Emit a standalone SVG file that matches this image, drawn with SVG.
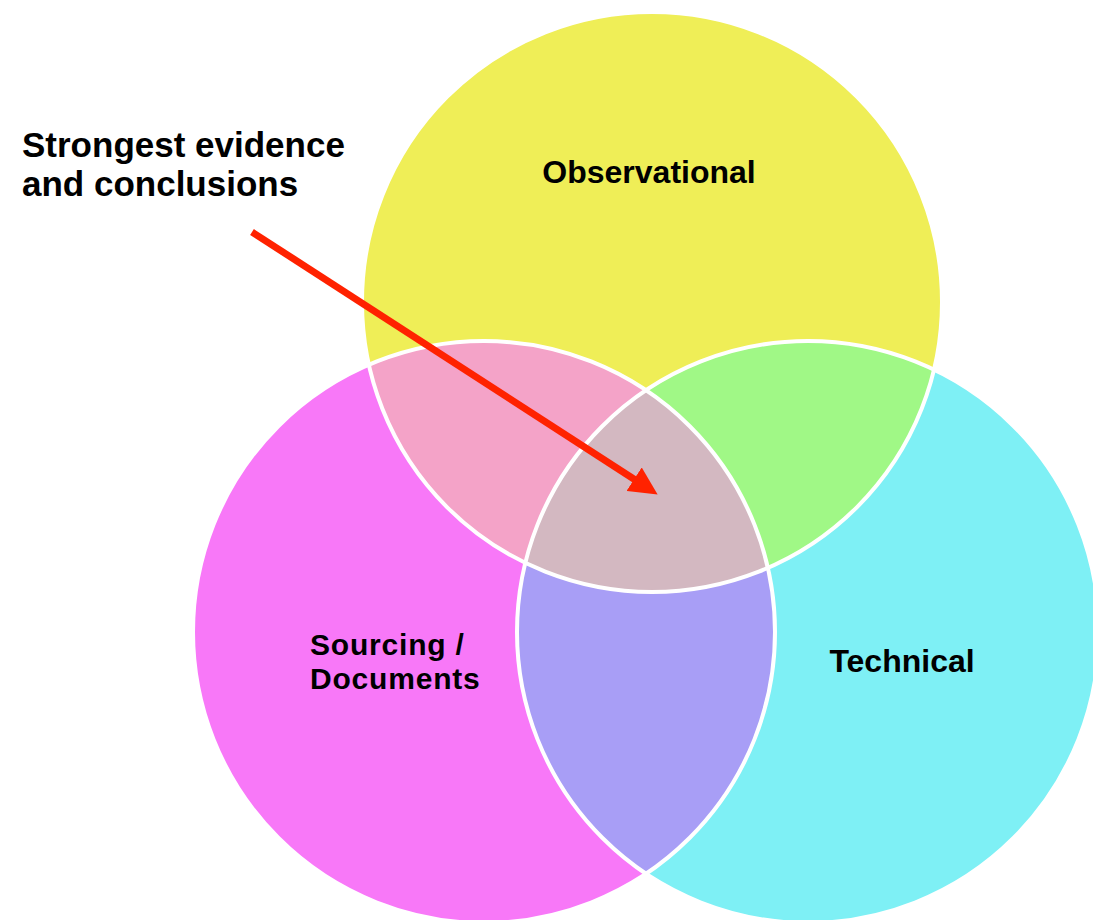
<svg xmlns="http://www.w3.org/2000/svg" width="1093" height="920" viewBox="0 0 1093 920">
<style>
.lbl{font-family:"Liberation Sans",Arial,sans-serif;font-weight:bold;fill:#000}
.edge{fill:none;stroke:#ffffff;stroke-width:4}
</style>
<defs>
<clipPath id="cY"><circle cx="652" cy="302" r="290"/></clipPath>
<clipPath id="cM"><circle cx="484" cy="632" r="291"/></clipPath>
<clipPath id="cC"><circle cx="808" cy="632" r="291"/></clipPath>
<marker id="ah" markerWidth="4" markerHeight="4" refX="1" refY="2" orient="auto" markerUnits="strokeWidth" viewBox="0 0 4 4">
<path d="M0,0 L4,2 L0,4 Z" fill="#ff2200"/>
</marker>
</defs>
<rect width="1093" height="920" fill="#ffffff"/>
<g id="observational">
<circle cx="652" cy="302" r="290" fill="#efee57"/>
</g>
<g id="sourcing">
<circle cx="484" cy="632" r="291" fill="#f878f8"/>
</g>
<g id="technical">
<circle cx="808" cy="632" r="291" fill="#7ef0f5"/>
</g>
<g id="overlaps">
<g clip-path="url(#cY)"><circle cx="484" cy="632" r="291" fill="#f4a3c8"/></g>
<g clip-path="url(#cY)"><circle cx="808" cy="632" r="291" fill="#a0f886"/></g>
<g clip-path="url(#cM)"><circle cx="808" cy="632" r="291" fill="#a89ef6"/></g>
<g clip-path="url(#cY)"><g clip-path="url(#cM)"><circle cx="808" cy="632" r="291" fill="#d3b8c1"/></g></g>
</g>
<g id="outlines">
<circle class="edge" cx="652" cy="302" r="290"/>
<circle class="edge" cx="484" cy="632" r="291"/>
<circle class="edge" cx="808" cy="632" r="291"/>
</g>
<g id="labels">
<text class="lbl" x="649" y="183" font-size="32" text-anchor="middle">Observational</text>
<text class="lbl" x="310" y="655" font-size="30" letter-spacing="0.8">Sourcing /</text>
<text class="lbl" x="310" y="689" font-size="30" letter-spacing="0.8">Documents</text>
<text class="lbl" x="902" y="672" font-size="32" text-anchor="middle">Technical</text>
</g>
<g id="callout">
<text class="lbl" x="22" y="157" font-size="35">Strongest evidence</text>
<text class="lbl" x="22" y="196" font-size="35">and conclusions</text>
</g>
<g id="connectors">
<line x1="252" y1="232" x2="640" y2="483" stroke="#ff2200" stroke-width="7" marker-end="url(#ah)"/>
</g>
</svg>
